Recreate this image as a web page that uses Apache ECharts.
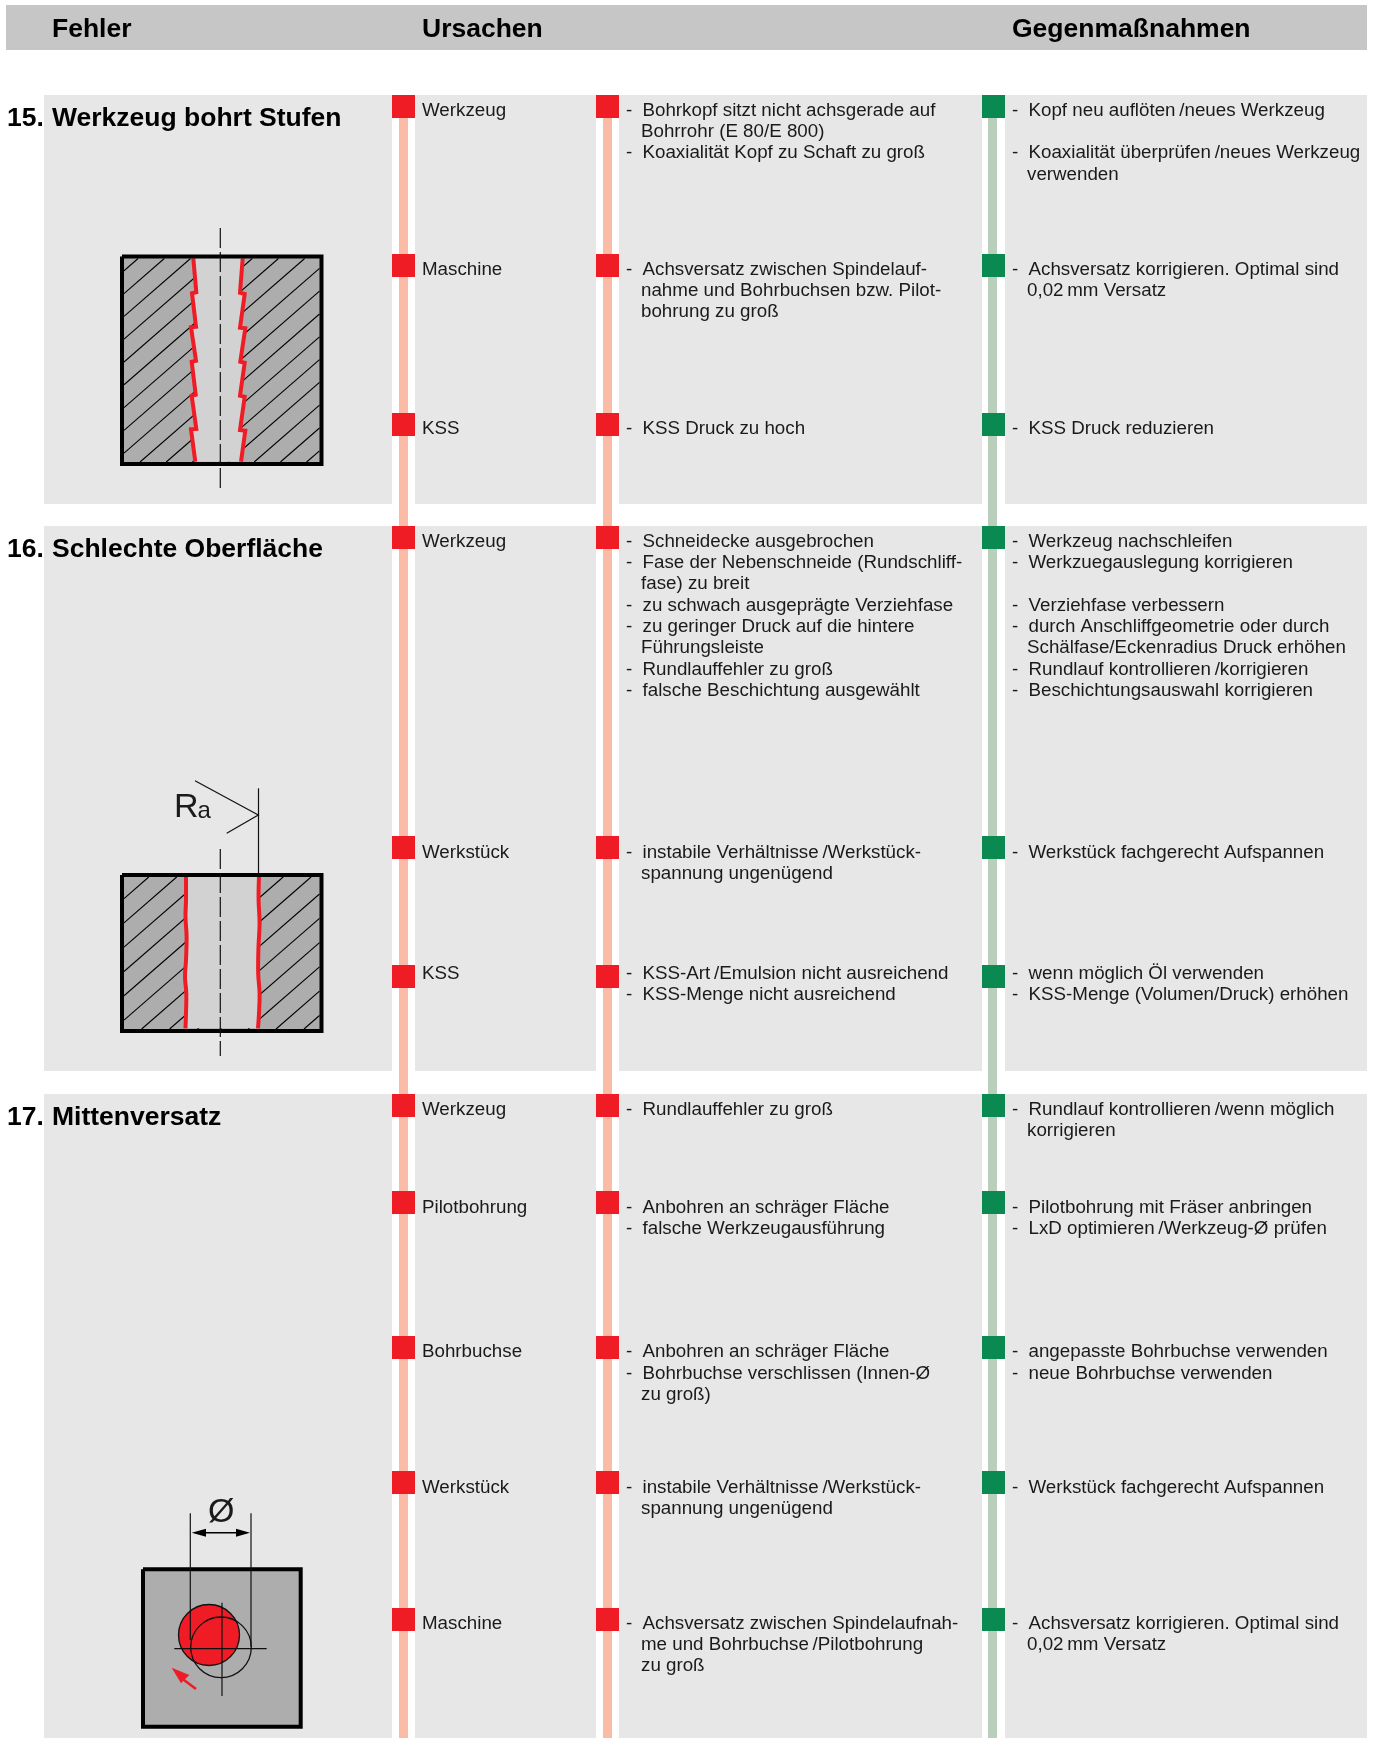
<!DOCTYPE html>
<html>
<head>
<meta charset="utf-8">
<title>Fehler Ursachen Gegenmaßnahmen</title>
<style>
  html, body { margin: 0; padding: 0; background: #fff; }
  #chart { width: 1375px; height: 1738px; }
</style>
<script src="https://cdn.jsdelivr.net/npm/echarts@6/dist/echarts.min.js"></script>
</head>
<body>
<div id="chart"></div>
<script>
var headers = ['Fehler', 'Ursachen', 'Gegenmaßnahmen'];
var sectionNumbers = ['15.', '16.', '17.'];
var sectionTitles = ['Werkzeug bohrt Stufen', 'Schlechte Oberfläche', 'Mittenversatz'];

// panel top/bottom per section, square tops and first text lines per row
var sectionSpans = [[95, 504], [526, 1071], [1094, 1738]];
var rowTops = [
  [95, 254, 413],
  [526, 836, 965],
  [1094, 1191, 1336, 1471, 1608]
];
var textLines = [
  [110.5, 269.5, 428.5],
  [541.5, 852.5, 973.5],
  [1109.5, 1207.5, 1352, 1487.5, 1623.5]
];

var sources = [
  ['Werkzeug', 'Maschine', 'KSS'],
  ['Werkzeug', 'Werkstück', 'KSS'],
  ['Werkzeug', 'Pilotbohrung', 'Bohrbuchse', 'Werkstück', 'Maschine']
];

var causes = [
  [
    ['- Bohrkopf sitzt nicht achsgerade auf', 'Bohrrohr (E 80/E 800)', '- Koaxialität Kopf zu Schaft zu groß'],
    ['- Achsversatz zwischen Spindelauf-', 'nahme und Bohrbuchsen bzw. Pilot-', 'bohrung zu groß'],
    ['- KSS Druck zu hoch']
  ],
  [
    ['- Schneidecke ausgebrochen', '- Fase der Nebenschneide (Rundschliff-', 'fase) zu breit', '- zu schwach ausgeprägte Verziehfase',
      '- zu geringer Druck auf die hintere', 'Führungsleiste', '- Rundlauffehler zu groß', '- falsche Beschichtung ausgewählt'],
    ['- instabile Verhältnisse\u2009/Werkstück-', 'spannung ungenügend'],
    ['- KSS-Art\u2009/Emulsion nicht ausreichend', '- KSS-Menge nicht ausreichend']
  ],
  [
    ['- Rundlauffehler zu groß'],
    ['- Anbohren an schräger Fläche', '- falsche Werkzeugausführung'],
    ['- Anbohren an schräger Fläche', '- Bohrbuchse verschlissen (Innen-Ø', 'zu groß)'],
    ['- instabile Verhältnisse\u2009/Werkstück-', 'spannung ungenügend'],
    ['- Achsversatz zwischen Spindelaufnah-', 'me und Bohrbuchse\u2009/Pilotbohrung', 'zu groß']
  ]
];

var fixes = [
  [
    ['- Kopf neu auflöten\u2009/neues Werkzeug', '', '- Koaxialität überprüfen\u2009/neues Werkzeug', 'verwenden'],
    ['- Achsversatz korrigieren. Optimal sind', '0,02\u2009mm Versatz'],
    ['- KSS Druck reduzieren']
  ],
  [
    ['- Werkzeug nachschleifen', '- Werkzuegauslegung korrigieren', '', '- Verziehfase verbessern',
      '- durch Anschliffgeometrie oder durch', 'Schälfase/Eckenradius Druck erhöhen',
      '- Rundlauf kontrollieren\u2009/korrigieren', '- Beschichtungsauswahl korrigieren'],
    ['- Werkstück fachgerecht Aufspannen'],
    ['- wenn möglich Öl verwenden', '- KSS-Menge (Volumen/Druck) erhöhen']
  ],
  [
    ['- Rundlauf kontrollieren\u2009/wenn möglich', 'korrigieren'],
    ['- Pilotbohrung mit Fräser anbringen', '- LxD optimieren\u2009/Werkzeug-Ø prüfen'],
    ['- angepasste Bohrbuchse verwenden', '- neue Bohrbuchse verwenden'],
    ['- Werkstück fachgerecht Aufspannen'],
    ['- Achsversatz korrigieren. Optimal sind', '0,02\u2009mm Versatz']
  ]
];

// outlines of the three small drawings
var stepLeft = [[193.3, 258.3], [196.3, 292.3], [192, 293.3], [196, 326.7], [191, 327.3], [196, 360.7],
  [191.7, 361.7], [195.7, 394.7], [191.7, 395.7], [196.3, 429], [191, 429.3], [195.3, 461.7]];
var stepRight = [[242.7, 258.3], [240, 292.7], [244.7, 294], [240, 327.7], [245.3, 328.3], [240.3, 361.7],
  [244.7, 362.7], [240, 395.7], [244.7, 396.7], [240, 430], [245.3, 430.7], [241, 461.7]];
var waveLeft = [[186, 876], [186, 900], [185.5, 916.7], [186.6, 936.7], [186, 960], [185, 976.7],
  [186.3, 993.3], [186, 1013.3], [185.5, 1028.3]];
var waveRight = [[259, 876], [258.6, 900], [259.6, 923.3], [258.5, 946.7], [258.2, 973.3], [259.6, 993.3],
  [259, 1013.3], [258, 1028.3]];
var raTick = [[195, 780.7], [258.3, 815], [226.7, 833.3]];

var FONT = '"Liberation Sans", Arial, sans-serif';
var RED = '#ef1c25';
var GREEN = '#0a8a50';
var STEEL = '#adadad';
var BORE = '#d2d2d2';
var TEXT = '#1a1a1a';
var BODY_SIZE = 18.75;

var rects = [];
var texts = [];
var shapes = [];

function addRect(x0, y0, x1, y1, color) {
  rects.push({ x0: x0, y0: y0, x1: x1, y1: y1, color: color });
}

function addText(x, y, str, size, bold) {
  texts.push({ x: x, y: y, str: str, size: size, bold: bold });
}

function addLine(pts, width, color, dash, smooth) {
  shapes.push({ kind: 'polyline', pts: pts, width: width, color: color, dash: dash, smooth: smooth });
}

function addPoly(pts, fill, stroke, width) {
  shapes.push({ kind: 'polygon', pts: pts, fill: fill, color: stroke, width: width });
}

function addCircle(cx, cy, r, fill, stroke, width) {
  shapes.push({ kind: 'circle', cx: cx, cy: cy, r: r, fill: fill, color: stroke, width: width });
}

// diagonal section hatching, clipped by hand to a box
function addHatch(x0, y0, x1, y1, anchorX, anchorY, gap) {
  var m = 0.87;
  for (var k = -30; k <= 30; k++) {
    var c = anchorY + k * gap + m * anchorX;
    var ax = Math.max(x0, (c - y1) / m);
    var bx = Math.min(x1, (c - y0) / m);
    if (bx > ax) {
      addLine([[ax, c - m * ax], [bx, c - m * bx]], 1.1, '#000');
    }
  }
}

function addBlock(x0, y0, x1, y1) {
  addLine([[x0, y0], [x1, y0], [x1, y1], [x0, y1], [x0, y0]], 4, '#000');
}

function buildLayout() {
  addRect(6, 5, 1367, 50, '#c6c6c6');
  [52, 422, 1012].forEach(function (x, i) {
    addText(x, 29.5, headers[i], 26.5, true);
  });

  // stems run through the white gaps down to the page end
  addRect(399, 95, 408, 1738, '#fabca6');
  addRect(603, 95, 612, 1738, '#fabca6');
  addRect(988, 95, 997, 1738, '#b9cfbb');

  sectionSpans.forEach(function (span, s) {
    addRect(44, span[0], 392, span[1], '#e7e7e7');
    addRect(415, span[0], 596, span[1], '#e7e7e7');
    addRect(619, span[0], 982, span[1], '#e7e7e7');
    addRect(1005, span[0], 1367, span[1], '#e7e7e7');

    var titleY = span[0] + 23.5;
    addText(7, titleY, sectionNumbers[s], 26.5, true);
    addText(52, titleY, sectionTitles[s], 26.5, true);

    rowTops[s].forEach(function (top, r) {
      var lineY = textLines[s][r];
      addRect(392, top, 415, top + 23, RED);
      addRect(596, top, 619, top + 23, RED);
      addRect(982, top, 1005, top + 23, GREEN);
      addText(422, lineY, sources[s][r], BODY_SIZE, false);
      addColumn(626, lineY, causes[s][r]);
      addColumn(1012, lineY, fixes[s][r]);
    });
  });
}

function addColumn(dashX, firstY, lines) {
  lines.forEach(function (line, i) {
    var y = firstY + i * 21.35;
    if (line.indexOf('- ') === 0) {
      addText(dashX, y, '-', BODY_SIZE, false);
      addText(dashX + 16.5, y, line.slice(2), BODY_SIZE, false);
    } else if (line) {
      addText(dashX + 15, y, line, BODY_SIZE, false);
    }
  });
}

function buildDrawings() {
  // 15. steps
  addRect(122, 256.5, 321.5, 464, STEEL);
  addHatch(124, 258.5, 220, 462, 124.3, 293.3, 22.8);
  addHatch(220, 258.5, 319.5, 462, 320.3, 267.7, 22.8);
  addPoly(stepLeft.concat(stepRight.slice().reverse()), BORE);
  addLine(stepLeft, 4, RED);
  addLine(stepRight, 4, RED);
  addBlock(122, 256.5, 321.5, 464);
  addLine([[220.3, 228], [220.3, 488]], 1.2, '#111', [20, 4]);

  // 16. surface
  addRect(122, 875, 321.5, 1031, STEEL);
  addHatch(124, 877, 220, 1029, 124.3, 898.3, 24.3);
  addHatch(220, 877, 319.5, 1029, 320.3, 893.3, 24.3);
  addPoly(waveLeft.concat(waveRight.slice().reverse()), BORE);
  addLine(waveLeft, 4, RED, null, 0.4);
  addLine(waveRight, 4, RED, null, 0.4);
  addBlock(122, 875, 321.5, 1031);
  addLine([[220.3, 849], [220.3, 1056]], 1.2, '#111', [20, 4]);
  addLine([[258.5, 788.3], [258.5, 873]], 1.2, '#111');
  addLine(raTick, 1.2, '#111');
  addText(174, 808, 'R', 34, false);
  addText(197.5, 811, 'a', 24, false);

  // 17. offset
  addRect(143, 1569.3, 300.7, 1726.7, STEEL);
  addBlock(143, 1569.3, 300.7, 1726.7);
  addCircle(209, 1635, 30.5, RED, '#111', 1.3);
  addCircle(221, 1647.3, 30.3, null, '#111', 1.3);
  addLine([[174.3, 1648.7], [266.7, 1648.7]], 1.2, '#111');
  addLine([[222, 1602.7], [222, 1696]], 1.2, '#111');
  addLine([[190.3, 1513.3], [190.3, 1640]], 1.2, '#111');
  addLine([[251, 1513.3], [251, 1647]], 1.2, '#111');
  addLine([[195, 1532.7], [247, 1532.7]], 1.5, '#000');
  addPoly([[191.7, 1532.7], [206, 1528.7], [206, 1536.7]], '#000');
  addPoly([[250, 1532.7], [236, 1528.7], [236, 1536.7]], '#000');
  addText(208, 1513, 'Ø', 34, false);
  addLine([[183, 1679.3], [196, 1689]], 2.6, RED);
  addPoly([[171.7, 1667.7], [189.3, 1675], [181, 1683.3]], RED);
}

buildLayout();
buildDrawings();

function indexData(list) {
  return list.map(function (d, i) { return [i, 0]; });
}

function toPixels(api, pts) {
  return pts.map(function (p) { return api.coord(p); });
}

function renderRect(params, api) {
  var d = rects[params.dataIndex];
  var a = api.coord([d.x0, d.y0]);
  var b = api.coord([d.x1, d.y1]);
  return {
    type: 'rect',
    shape: { x: a[0], y: a[1], width: b[0] - a[0], height: b[1] - a[1] },
    style: { fill: d.color }
  };
}

function renderShape(params, api) {
  var d = shapes[params.dataIndex];
  if (d.kind === 'circle') {
    var c = api.coord([d.cx, d.cy]);
    return {
      type: 'circle',
      shape: { cx: c[0], cy: c[1], r: d.r },
      style: { fill: d.fill || 'transparent', stroke: d.color, lineWidth: d.width }
    };
  }
  if (d.kind === 'polygon') {
    return {
      type: 'polygon',
      shape: { points: toPixels(api, d.pts) },
      style: { fill: d.fill, stroke: d.color || null, lineWidth: d.width || 0 }
    };
  }
  return {
    type: 'polyline',
    shape: { points: toPixels(api, d.pts), smooth: d.smooth || 0 },
    style: { fill: null, stroke: d.color, lineWidth: d.width, lineDash: d.dash || null }
  };
}

function renderText(params, api) {
  var d = texts[params.dataIndex];
  var p = api.coord([d.x, d.y]);
  return {
    type: 'text',
    x: p[0],
    y: p[1],
    style: {
      text: d.str,
      fill: d.bold ? '#000' : TEXT,
      font: (d.bold ? 'bold ' : '') + d.size + 'px ' + FONT,
      verticalAlign: 'middle',
      align: 'left'
    }
  };
}

function layer(name, list, render, z) {
  return {
    type: 'custom',
    name: name,
    coordinateSystem: 'cartesian2d',
    data: indexData(list),
    renderItem: render,
    clip: false,
    silent: true,
    z: z
  };
}

var chart = echarts.init(document.getElementById('chart'), null, { renderer: 'canvas' });
chart.setOption({
  animation: false,
  backgroundColor: '#fff',
  tooltip: { show: false },
  grid: { left: 0, right: 0, top: 0, bottom: 0 },
  xAxis: { type: 'value', min: 0, max: 1375, show: false },
  yAxis: { type: 'value', min: 0, max: 1738, inverse: true, show: false },
  series: [
    layer('areas', rects, renderRect, 1),
    layer('drawings', shapes, renderShape, 2),
    layer('labels', texts, renderText, 3)
  ]
});
</script>
</body>
</html>
